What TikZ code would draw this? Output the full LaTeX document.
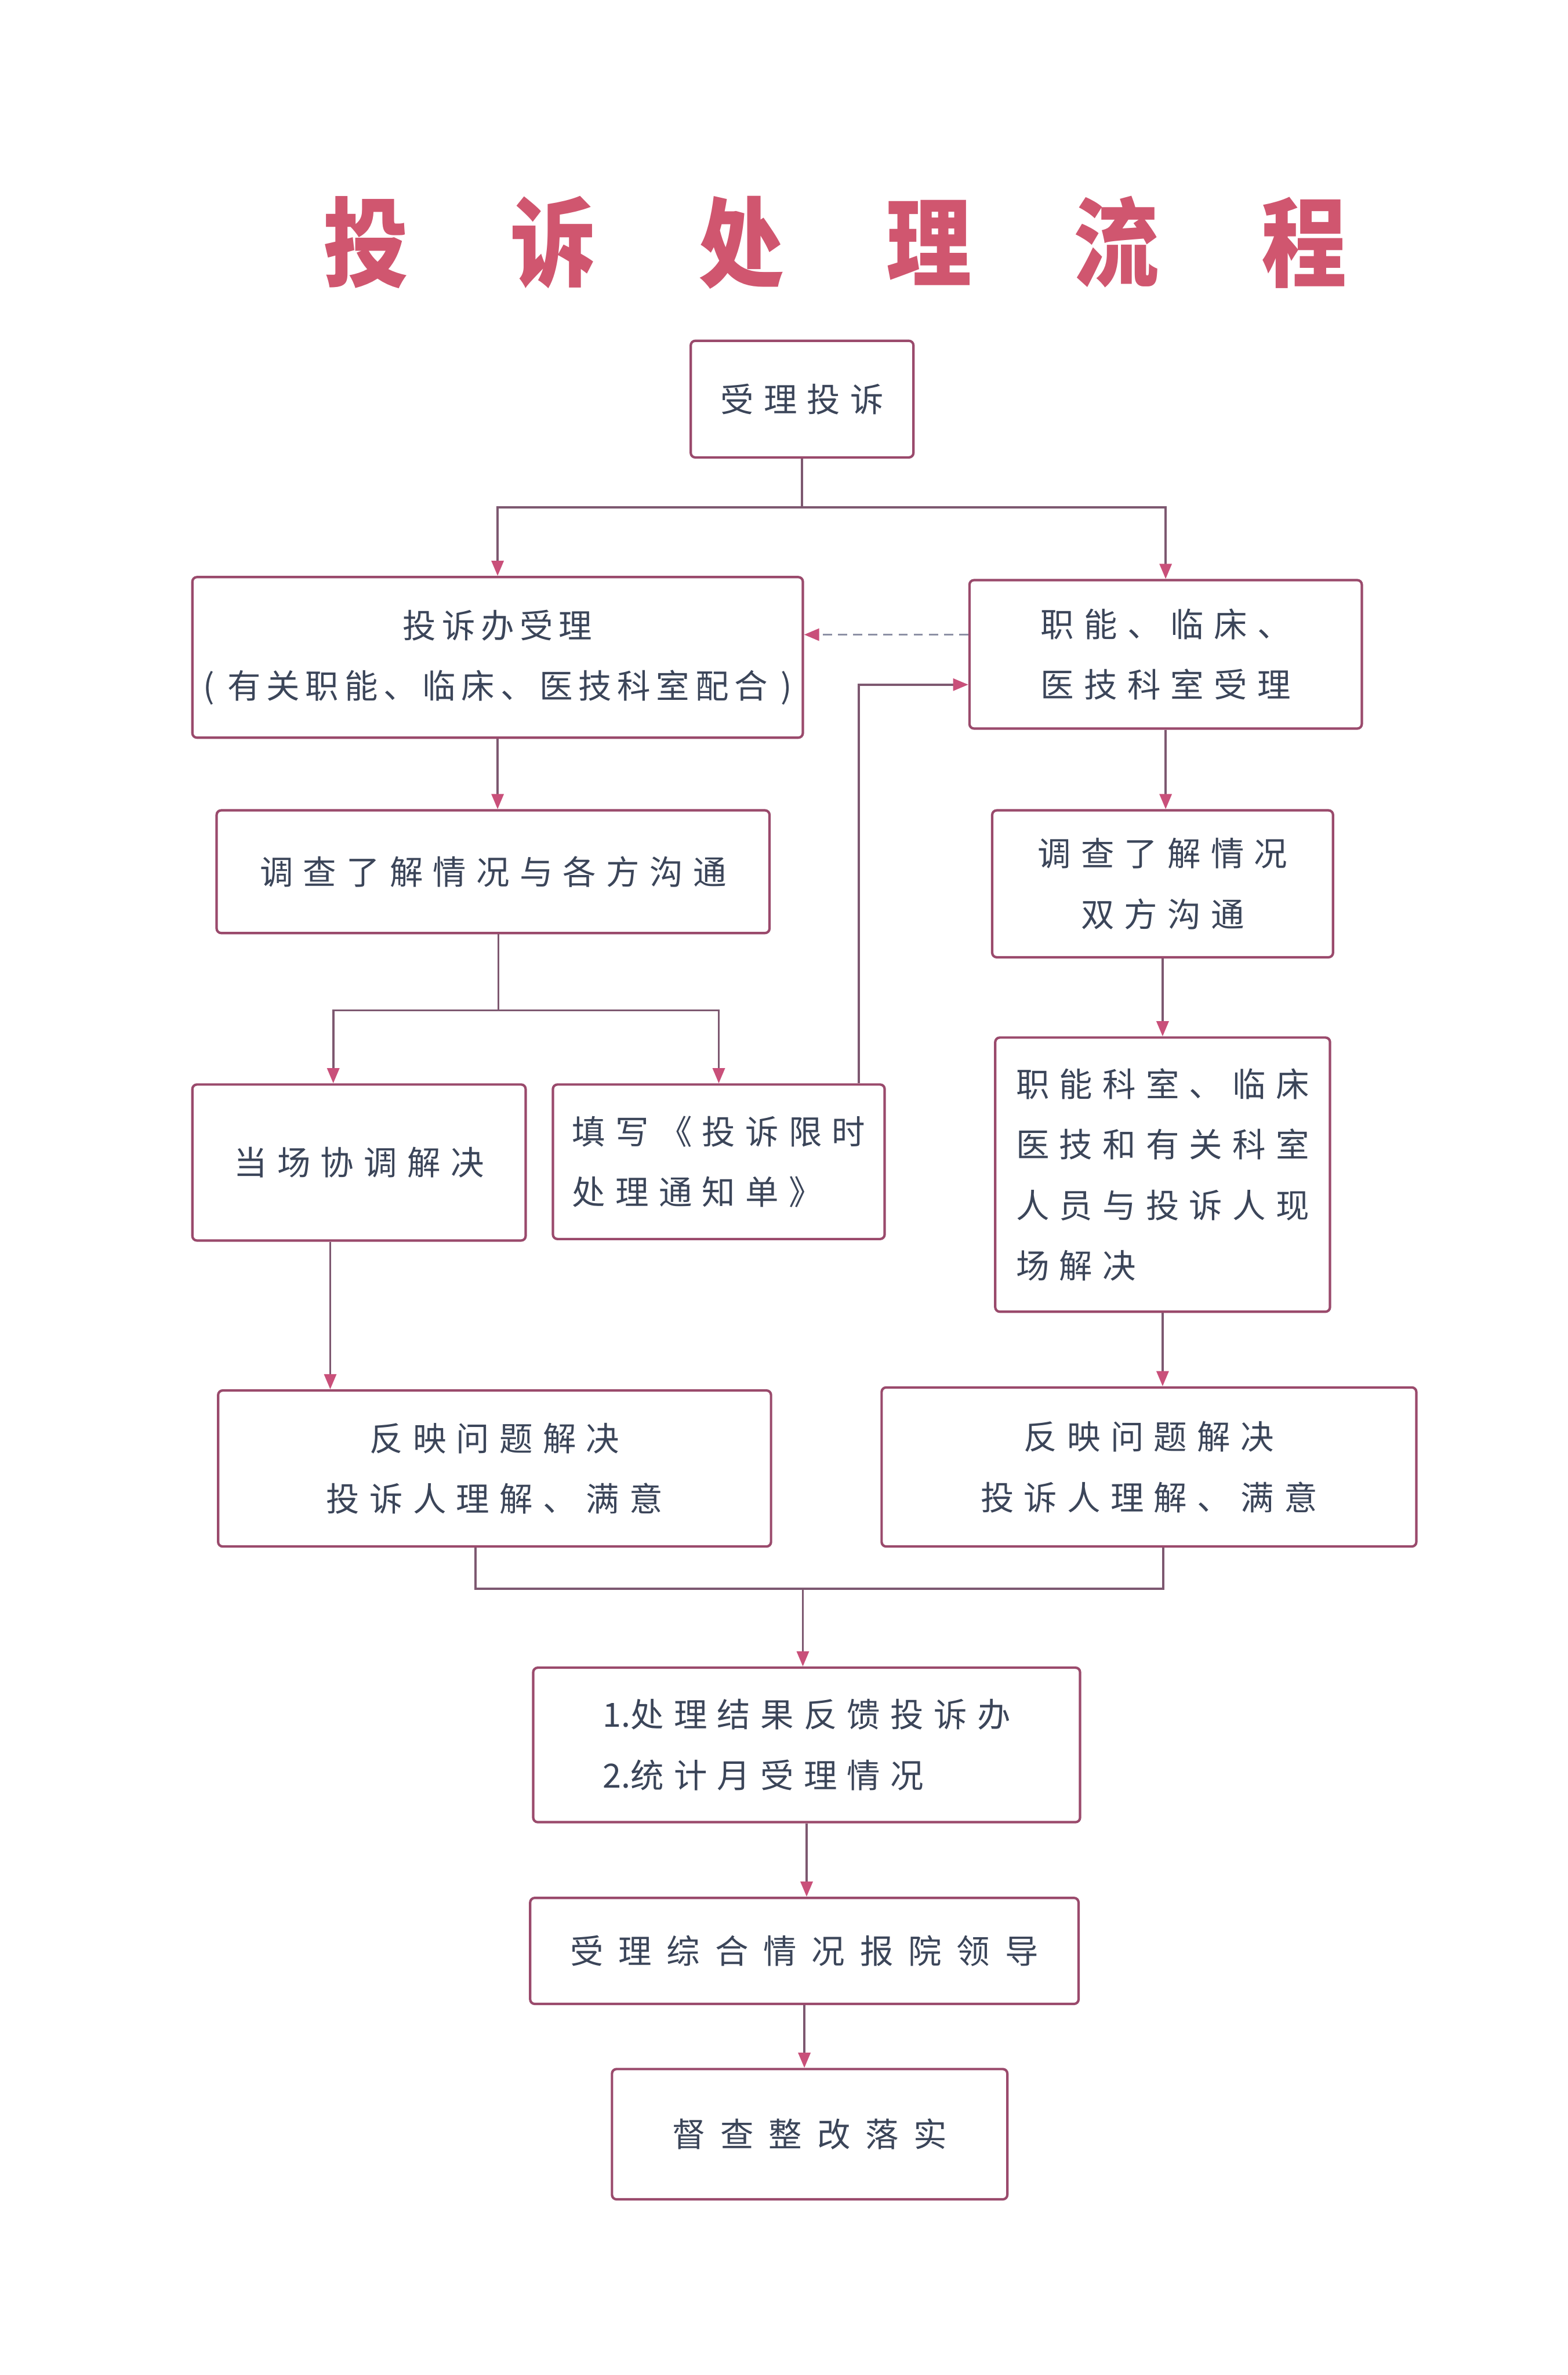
\documentclass[tikz,border=0pt]{standalone}
\usepackage{fontspec}
\setmainfont{Noto Sans CJK SC}
\newfontfamily\plainfont{Noto Sans CJK SC}
\newfontfamily\tightfont[LetterSpace=17]{Noto Sans CJK SC}
\newfontfamily\bodyfont[LetterSpace=30]{Noto Sans CJK SC}
\newfontfamily\widefont[LetterSpace=45]{Noto Sans CJK SC}
\newfontfamily\titlefont[LetterSpace=120]{Noto Sans CJK SC}
\usetikzlibrary{arrows.meta}
\definecolor{boxc}{HTML}{9A4A6C}
\definecolor{linec}{HTML}{7D5870}
\definecolor{tipc}{HTML}{C9507A}
\definecolor{txtc}{HTML}{3B4559}
\definecolor{titlec}{HTML}{D0566F}
\definecolor{dashc}{HTML}{8C90A4}
\tikzset{
  stepbox/.style={draw=boxc, line width=0.8pt, rounded corners=1.5pt, inner sep=0pt,
    text=txtc, font=\bodyfont\fontsize{11pt}{20pt}\selectfont, align=center},
  conn/.style={draw=linec, line width=0.7pt},
  arr/.style={conn, -{Triangle[length=5pt,width=4pt,color=tipc]}},
  dasharr/.style={draw=dashc, line width=0.7pt, dash pattern=on 3pt off 2pt,
    -{Triangle[length=5pt,width=4pt,color=tipc]}}
}
\begin{document}
\begin{tikzpicture}[x=0.5pt,y=-0.5pt]
\fill[white] (0,0) rectangle (1035,1568);
\useasboundingbox (0,0) rectangle (1035,1568);

\node[anchor=west, inner sep=0pt, text=titlec, font=\titlefont\bfseries\fontsize{32pt}{36pt}\selectfont] (title) at (213,160) {\scalebox{0.88}[1]{投诉处理流程}};

\node[stepbox, minimum width=73.5pt, minimum height=38.5pt] (n1) at (529.5,263.5) {受理投诉};
\node[stepbox, minimum width=201.5pt, minimum height=53pt, font=\tightfont\fontsize{11pt}{20pt}\selectfont] (n2) at (328.5,434) {投诉办受理\\( 有关职能、临床、医技科室配合 )};
\node[stepbox, minimum width=129.5pt, minimum height=49pt, align=left] (n3) at (769.5,432) {职能、临床、\\医技科室受理};
\node[stepbox, minimum width=182.5pt, minimum height=40.5pt] (n4) at (325.5,575.5) {调查了解情况与各方沟通};
\node[stepbox, minimum width=112.5pt, minimum height=48.5pt] (n5) at (767.5,583.5) {调查了解情况\\双方沟通};
\node[stepbox, minimum width=110pt, minimum height=51.5pt] (n6) at (237,767.5) {当场协调解决};
\node[stepbox, minimum width=109.5pt, minimum height=51pt, align=left] (n7) at (474.5,767) {填写《投诉限时\\处理通知单》};
\node[stepbox, minimum width=110.5pt, minimum height=90.5pt, align=left] (n8) at (767.5,775.5) {职能科室、临床\\医技和有关科室\\人员与投诉人现\\场解决};
\node[stepbox, minimum width=182.5pt, minimum height=51.5pt] (n9) at (326.5,969.5) {反映问题解决\\投诉人理解、满意};
\node[stepbox, minimum width=176.5pt, minimum height=52.5pt] (n10) at (758.5,968.5) {反映问题解决\\投诉人理解、满意};
\node[stepbox, minimum width=180.5pt, minimum height=51pt, align=left] (n11) at (532.5,1152) {{\plainfont 1.}处理结果反馈投诉办\\{\plainfont 2.}统计月受理情况};
\node[stepbox, minimum width=181pt, minimum height=35pt, font=\widefont\fontsize{11pt}{20pt}\selectfont] (n12) at (531,1288) {受理综合情况报院领导};
\node[stepbox, minimum width=130.5pt, minimum height=43pt, font=\widefont\fontsize{11pt}{20pt}\selectfont] (n13) at (534.5,1409) {督查整改落实};

% helper coordinates
\coordinate (j1) at (529.5,335);
\coordinate (y419) at (0,419);
\coordinate (y452) at (0,452);
\coordinate (j2) at (329,667);
\coordinate (x220) at (220,0);
\coordinate (x567) at (567,0);
\coordinate (x218) at (218,0);
\coordinate (ma) at (314,1049);
\coordinate (mb) at (768,1049);
\coordinate (mc) at (530,1049);

\draw[conn] (n1.south) -- (j1);
\draw[arr] (j1) -| (n2.north);
\draw[arr] (j1) -| (n3.north);
\draw[dasharr] (n3.west |- y419) -- (n2.east |- y419);
\draw[arr] (n2.south) -- (n2.south |- n4.north);
\draw[conn] (n4.south -| j2) -- (j2);
\draw[arr] (j2) -| (n6.north -| x220);
\draw[arr] (j2) -| (n7.north);
\draw[arr] (n7.north -| x567) |- (n3.west |- y452);
\draw[arr] (n3.south) -- (n3.south |- n5.north);
\draw[arr] (n5.south) -- (n5.south |- n8.north);
\draw[arr] (n6.south -| x218) -- (n9.north -| x218);
\draw[arr] (n8.south) -- (n8.south |- n10.north);
\draw[conn] (n9.south -| ma) -- (ma) -- (mb) -- (n10.south -| mb);
\draw[arr] (mc) -- (mc |- n11.north);
\draw[arr] (n11.south) -- (n11.south |- n12.north);
\draw[arr] (n12.south) -- (n12.south |- n13.north);
\end{tikzpicture}
\end{document}
